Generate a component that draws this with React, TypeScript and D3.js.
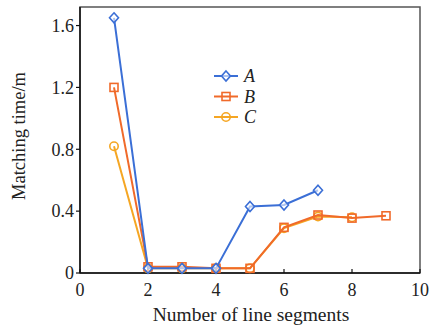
import React from "react";
import * as d3 from "d3";

const xCats = [1, 2, 3, 4, 5, 6, 7, 8, 9];
const seriesA = [1.65, 0.03, 0.03, 0.03, 0.43, 0.44, 0.535];
const seriesB = [1.2, 0.04, 0.04, 0.03, 0.03, 0.295, 0.375, 0.355, 0.37];
const seriesC = [0.82, 0.03, 0.03, 0.03, 0.03, 0.29, 0.365, 0.36];
const xTicks = [0, 2, 4, 6, 8, 10];
const yTicks = [0, 0.4, 0.8, 1.2, 1.6];
const yTickLabels = ["0", "0.4", "0.8", "1.2", "1.6"];
const names = ["A", "B", "C"];

const W = 432, H = 327;
const L = 80, R = 420, T = 7, B = 273;
const font = "'Liberation Serif', 'Times New Roman', serif";

export default function App() {
  const x = d3.scaleLinear().domain([0, 10]).range([L, R]);
  const y = d3.scaleLinear().domain([0, 1.72]).range([B, T]);
  const line = d3.line<[number, number]>().x(d => x(d[0])).y(d => y(d[1]));
  const series = [
    { name: names[0], vals: seriesA, color: "#3b6fd6", shape: "diamond" },
    { name: names[1], vals: seriesB, color: "#f06a2a", shape: "square" },
    { name: names[2], vals: seriesC, color: "#f5a623", shape: "circle" },
  ];
  const marker = (shape: string, cx: number, cy: number, color: string, key: string) => {
    if (shape === "diamond")
      return <path key={key} d={`M${cx},${cy - 5}L${cx + 4.5},${cy}L${cx},${cy + 5}L${cx - 4.5},${cy}Z`} fill="white" fillOpacity={0.6} stroke={color} strokeWidth={1.6} />;
    if (shape === "square")
      return <rect key={key} x={cx - 4} y={cy - 4} width={8} height={8} fill="none" stroke={color} strokeWidth={1.6} />;
    return <circle key={key} cx={cx} cy={cy} r={4.2} fill="none" stroke={color} strokeWidth={1.6} />;
  };
  const order = [2, 1, 0];
  return (
    <svg width={W} height={H} style={{ position: "absolute", left: 0, top: 0 }} fontFamily={font}>
      <rect x={0} y={0} width={W} height={H} fill="white" />
      <rect x={L} y={T} width={R - L} height={B - T} fill="none" stroke="#555" strokeWidth={1.5} />
      <line x1={L} x2={L} y1={T} y2={B} stroke="#111" strokeWidth={1.5} />
      <line x1={L} x2={R} y1={B} y2={B} stroke="#111" strokeWidth={1.5} />
      {yTicks.map((t, i) => (
        <g key={"y" + i}>
          <line x1={L - 4} x2={L} y1={y(t)} y2={y(t)} stroke="#111" strokeWidth={1.2} />
          <text x={L - 6} y={y(t)} dy="0.35em" textAnchor="end" fontSize={18} fill="#222">{yTickLabels[i]}</text>
        </g>
      ))}
      {xTicks.map((t, i) => (
        <g key={"x" + i}>
          <line x1={x(t)} x2={x(t)} y1={B} y2={B - 4} stroke="#111" strokeWidth={1.2} />
          <text x={x(t)} y={296} textAnchor="middle" fontSize={18} fill="#222">{t}</text>
        </g>
      ))}
      <text x={251} y={321} textAnchor="middle" fontSize={19.5} fill="#222">Number of line segments</text>
      <text transform={`translate(25,136) rotate(-90)`} textAnchor="middle" fontSize={18.5} fill="#222">Matching time/m</text>
      {order.map(si => {
        const s = series[si];
        const pts: [number, number][] = s.vals.map((v, i) => [xCats[i], v]);
        return (
          <g key={s.name}>
            <path d={line(pts) || ""} fill="none" stroke={s.color} strokeWidth={2} />
            {pts.map((p, i) => marker(s.shape, x(p[0]), y(p[1]), s.color, s.name + i))}
          </g>
        );
      })}
      {series.map((s, i) => {
        const ly = 76 + i * 20.5;
        return (
          <g key={"lg" + i}>
            <line x1={214} x2={238} y1={ly} y2={ly} stroke={s.color} strokeWidth={2} />
            {marker(s.shape, 226, ly, s.color, "lm" + i)}
            <text x={244} y={ly} dy="0.35em" fontSize={18} fontStyle="italic" fill="#222">{s.name}</text>
          </g>
        );
      })}
    </svg>
  );
}
